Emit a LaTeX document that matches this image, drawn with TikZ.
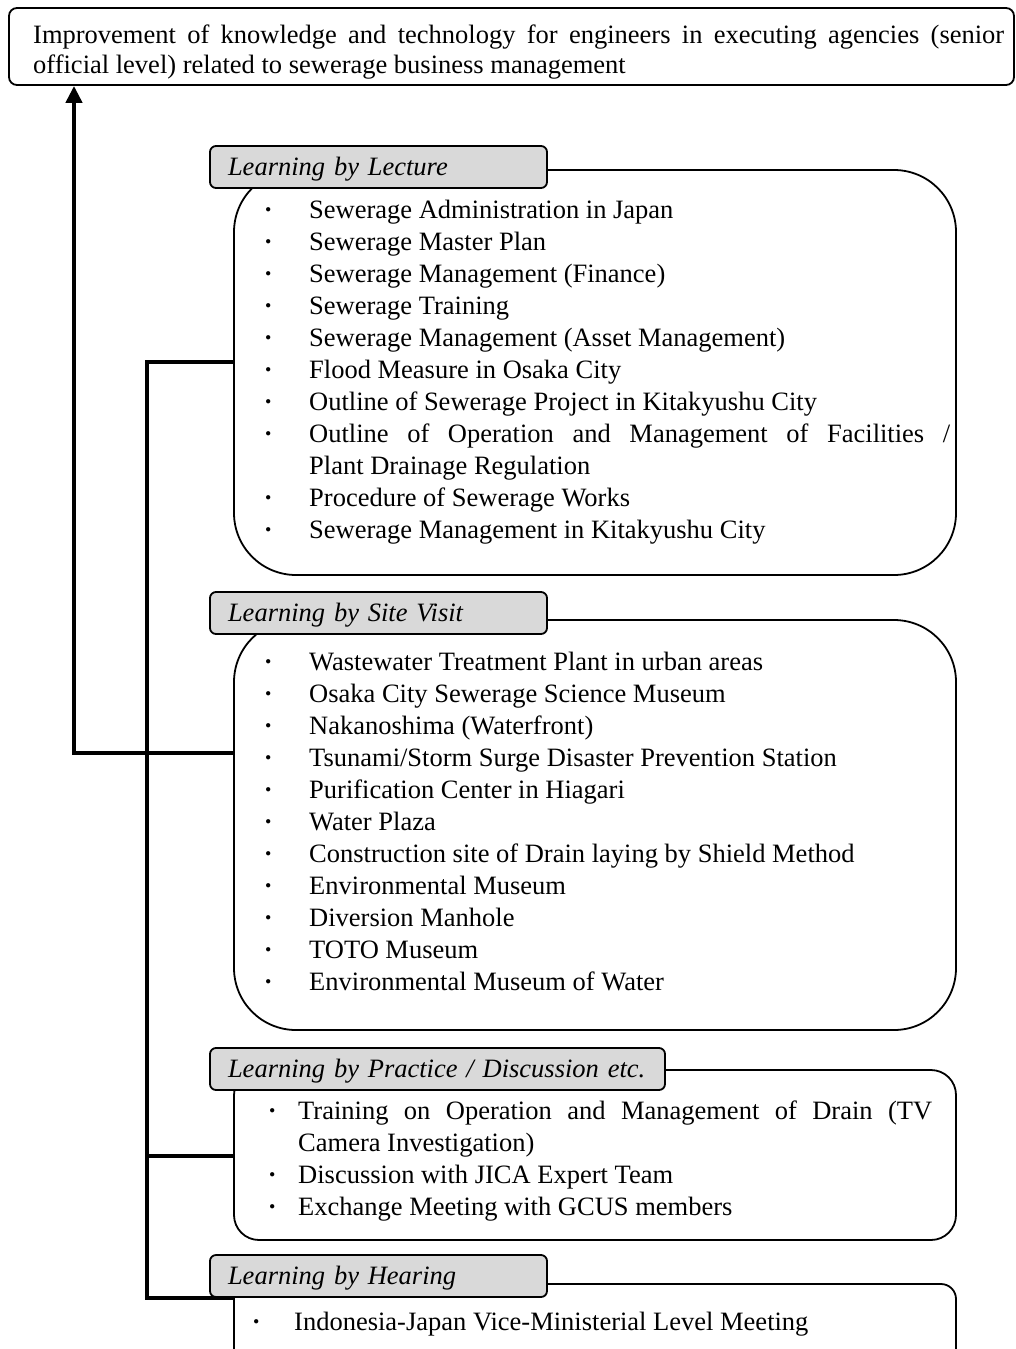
\documentclass[tikz,border=0pt]{standalone}
\usepackage{fontspec}
\setmainfont{Liberation Serif}
\usetikzlibrary{arrows.meta}
\definecolor{tabgray}{RGB}{217,217,217}
\newlength\bulletw
% one bulleted entry of a list; continuation lines hang under the text
\newcommand\listline[1]{\par\hangindent=\bulletw\hangafter=1\noindent
  \makebox[\bulletw][c]{\textbf{·}}#1}
\begin{document}
\begin{tikzpicture}[x=1pt,y=-1pt,
  every node/.style={inner sep=0pt, font=\fontsize{26.5}{32}\selectfont},
  frame/.style={draw, line width=1.8pt},
  goalbox/.style={frame, rounded corners=8pt, minimum width=1005pt, minimum height=77pt},
  bodybox/.style={frame, fill=white, minimum width=722pt},
  tabbox/.style={frame, fill=tabgray, rounded corners=6pt, minimum height=42pt,
    inner xsep=18pt, text height=20pt, text depth=4pt, align=left,
    font=\fontsize{26.5}{32}\selectfont\itshape},
  txt/.style={anchor=base west},
  conn/.style={line width=4.2pt, line join=miter}]
\useasboundingbox (0,0) rectangle (1016,1349);
\clip (0,0) rectangle (1016,1349);

% goal
\node[goalbox] (goal) at (511.5,46.5) {};
\node[txt, font=\fontsize{26.5}{30}\selectfont] (goaltext) at (33,43)
  {\parbox[t]{971pt}{Improvement of knowledge and technology for engineers in executing agencies (senior\linebreak official level) related to sewerage business management}};

% lectures
\node[bodybox, rounded corners=62pt, minimum height=405pt] (lecbody) at (595,372.5) {};
\node[tabbox, text width=301pt] (lectab) at (378.5,167) {Learning by Lecture};
\setlength\bulletw{82pt}
\node[txt] (lecitems) at (227,218) {\parbox[t]{723pt}{%
  \listline{Sewerage Administration in Japan}
  \listline{Sewerage Master Plan}
  \listline{Sewerage Management (Finance)}
  \listline{Sewerage Training}
  \listline{Sewerage Management (Asset Management)}
  \listline{Flood Measure in Osaka City}
  \listline{Outline of Sewerage Project in Kitakyushu City}
  \listline{Outline of Operation and Management of Facilities /\linebreak Plant Drainage Regulation}
  \listline{Procedure of Sewerage Works}
  \listline{Sewerage Management in Kitakyushu City}}};

% site visits
\node[bodybox, rounded corners=62pt, minimum height=410pt] (sitebody) at (595,825) {};
\node[tabbox, text width=301pt] (sitetab) at (378.5,613) {Learning by Site Visit};
\node[txt] (siteitems) at (227,670) {\parbox[t]{723pt}{%
  \listline{Wastewater Treatment Plant in urban areas}
  \listline{Osaka City Sewerage Science Museum}
  \listline{Nakanoshima (Waterfront)}
  \listline{Tsunami/Storm Surge Disaster Prevention Station}
  \listline{Purification Center in Hiagari}
  \listline{Water Plaza}
  \listline{Construction site of Drain laying by Shield Method}
  \listline{Environmental Museum}
  \listline{Diversion Manhole}
  \listline{TOTO Museum}
  \listline{Environmental Museum of Water}}};

% practice and discussion
\node[bodybox, rounded corners=25pt, minimum height=170pt] (pracbody) at (595,1155) {};
\node[tabbox, text width=419pt] (practab) at (437.5,1069) {Learning by Practice / Discussion etc.};
\setlength\bulletw{52pt}
\node[txt] (pracitems) at (246,1119) {\parbox[t]{686pt}{%
  \listline{Training on Operation and Management of Drain (TV\linebreak Camera Investigation)}
  \listline{Discussion with JICA Expert Team}
  \listline{Exchange Meeting with GCUS members}}};

% hearing
\node[bodybox, rounded corners=15pt, minimum height=116pt] (hearbody) at (595,1342) {};
\node[tabbox, text width=301pt] (heartab) at (378.5,1276) {Learning by Hearing};
\setlength\bulletw{76pt}
\node[txt] (hearitems) at (218,1330) {\parbox[t]{700pt}{%
  \listline{Indonesia-Japan Vice-Ministerial Level Meeting}}};

% connectors
\coordinate (j1) at (147,362);
\coordinate (j2) at (147,753);
\coordinate (j3) at (147,1156);
\coordinate (j4) at (147,1298);
\coordinate (bend) at (74,753);
\draw[conn] (j1 -| lecbody.west) -- (j1) -- (j4) -- (j4 -| hearbody.west);
\draw[conn] (j3) -- (j3 -| pracbody.west);
\draw[conn, -{Triangle[width=16pt,length=17pt]}]
  (j2 -| sitebody.west) -- (bend) -- (bend |- goal.south);
\end{tikzpicture}
\end{document}
